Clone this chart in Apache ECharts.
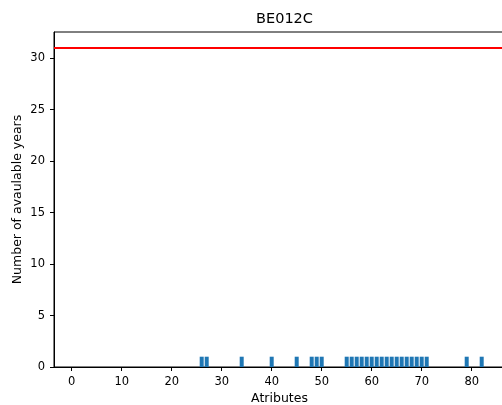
<!DOCTYPE html>
<html>
<head>
<meta charset="utf-8">
<script src="https://cdn.jsdelivr.net/npm/echarts@6/dist/echarts.min.js"></script>
<style>
  html, body { margin: 0; padding: 0; background: #fff; }
  #chart { width: 502px; height: 405px; }
</style>
</head>
<body>
<div id="chart"></div>
<script>
// Attribute indices that have data, and how many years each one covers
const attributes = [26, 27, 34, 40, 45, 48, 49, 50,
  55, 56, 57, 58, 59, 60, 61, 62, 63, 64, 65, 66, 67, 68, 69, 70, 71,
  79, 82];
const availableYears = [1, 1, 1, 1, 1, 1, 1, 1,
  1, 1, 1, 1, 1, 1, 1, 1, 1, 1, 1, 1, 1, 1, 1, 1, 1,
  1, 1];
// Total number of years in the period (reference level)
const totalYears = 31;
const xTicks = [0, 10, 20, 30, 40, 50, 60, 70, 80];
const yTicks = [0, 5, 10, 15, 20, 25, 30];

const FONT = 'DejaVu Sans';
const BAR_HALF = 0.4;

const chart = echarts.init(document.getElementById('chart'), null, { renderer: 'canvas' });

const axisCommon = {
  axisLine: { show: true, onZero: false, lineStyle: { color: '#000', width: 1 } },
  axisTick: { show: true, inside: false, length: 4, lineStyle: { color: '#000', width: 1 } },
  splitLine: { show: false },
  nameMoveOverlap: false,
  nameTextStyle: { fontFamily: FONT, fontSize: 12.5, color: '#000' }
};

chart.setOption({
  animation: false,
  title: {
    text: 'BE012C',
    left: 279.5,
    textAlign: 'center',
    top: 7,
    textStyle: { fontFamily: FONT, fontSize: 14.5, fontWeight: 'normal', color: '#000' }
  },
  grid: {
    left: 54, right: -3, top: 32, bottom: 38,
    containLabel: false,
    outerBoundsMode: 'none',
    show: true, borderColor: '#000', borderWidth: 1, backgroundColor: 'transparent'
  },
  xAxis: Object.assign({}, axisCommon, {
    type: 'value',
    min: -3.54,
    max: 86.66,
    name: 'Atributes',
    nameLocation: 'middle',
    nameGap: 25,
    axisTick: Object.assign({}, axisCommon.axisTick, { customValues: xTicks }),
    axisLabel: { customValues: xTicks, fontFamily: FONT, fontSize: 11.5, color: '#000', margin: 9 }
  }),
  yAxis: Object.assign({}, axisCommon, {
    type: 'value',
    min: 0,
    max: totalYears * 1.05,
    name: 'Number of avaulable years',
    nameLocation: 'middle',
    nameGap: 30,
    axisTick: Object.assign({}, axisCommon.axisTick, { customValues: yTicks }),
    axisLabel: { customValues: yTicks, fontFamily: FONT, fontSize: 11.5, color: '#000', margin: 9 }
  }),
  series: [
    {
      type: 'custom',
      data: attributes.map((a, i) => [a, availableYears[i]]),
      renderItem: function (params, api) {
        const x = api.value(0);
        const y = api.value(1);
        const p0 = api.coord([x - BAR_HALF, y]);
        const p1 = api.coord([x + BAR_HALF, 0]);
        return {
          type: 'rect',
          shape: { x: p0[0], y: p0[1], width: p1[0] - p0[0], height: p1[1] - p0[1] },
          style: { fill: '#1f77b4' }
        };
      }
    },
    {
      type: 'line',
      data: [],
      silent: true,
      markLine: {
        symbol: 'none',
        silent: true,
        label: { show: false },
        lineStyle: { color: '#ff0000', width: 2, type: 'solid' },
        data: [{ yAxis: totalYears }]
      }
    }
  ]
});
</script>
</body>
</html>
